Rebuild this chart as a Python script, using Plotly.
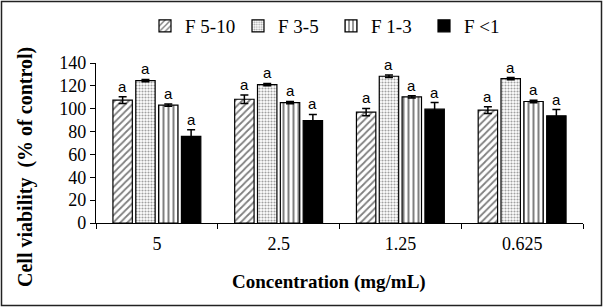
import plotly.graph_objects as go

categories = ["5", "2.5", "1.25", "0.625"]
series_names = ["F 5-10", "F 3-5", "F 1-3", "F <1"]
f5_10 = [107.5, 108.3, 97.0, 98.8]
f5_10_err = [3.0, 3.7, 3.2, 3.0]
f3_5 = [124.6, 121.1, 128.4, 126.3]
f3_5_err = [1.0, 1.0, 1.0, 1.0]
f1_3 = [103.1, 105.4, 110.4, 106.3]
f1_3_err = [1.0, 1.0, 1.0, 1.0]
f_lt1 = [75.8, 89.5, 99.6, 93.8]
f_lt1_err = [5.8, 5.5, 5.8, 5.5]
letters = ["a", "a", "a", "a"]
x_title = "Concentration (mg/mL)"
y_title = "Cell viability  (% of control)"

values = [f5_10, f3_5, f1_3, f_lt1]
errors = [f5_10_err, f3_5_err, f1_3_err, f_lt1_err]
patterns = [
    dict(shape="/", fgcolor="black", bgcolor="white", size=5, solidity=0.35),
    dict(shape=".", fgcolor="#444444", bgcolor="white", size=3, solidity=0.4),
    dict(shape="|", fgcolor="black", bgcolor="white", size=5, solidity=0.4),
    dict(shape="", fgcolor="black", bgcolor="black"),
]
colors = ["white", "white", "white", "black"]

SERIF = "Liberation Serif, Times New Roman, DejaVu Serif, serif"

fig = go.Figure()
for name, v, e, p, c in zip(series_names, values, errors, patterns, colors):
    fig.add_trace(go.Bar(
        x=categories, y=v, name=name,
        marker=dict(color=c, pattern=p, line=dict(color="black", width=1.2)),
        error_y=dict(type="data", array=e, visible=True, color="black",
                     thickness=1.5, width=4),
    ))

bargap = 0.25
ngroups = len(series_names)
slot = (1 - bargap) / ngroups
for i, (v, e) in enumerate(zip(values, errors)):
    for j, cat in enumerate(categories):
        fig.add_annotation(
            x=j - (1 - bargap) / 2 + slot * (i + 0.5), xref="x",
            y=v[j] + e[j], yref="y",
            text=letters[j], showarrow=False, yanchor="bottom", yshift=0,
            font=dict(family="Liberation Sans", size=15, color="black"),
        )

ml, mr, mt, mb = 96, 20, 63, 84
W, H = 603, 307
pw, ph = W - ml - mr, H - mt - mb

# axis titles (placed like the original, slightly off-centre)
fig.add_annotation(text="<b>" + x_title + "</b>", xref="paper", yref="paper",
                   x=(329 - ml) / pw, y=(H - 282 - mb) / ph, showarrow=False,
                   xanchor="center", yanchor="middle",
                   font=dict(family=SERIF, size=19, color="black"))
fig.add_annotation(text="<b>" + y_title + "</b>", xref="paper", yref="paper",
                   x=(25 - ml) / pw, y=(H - 167 - mb) / ph, showarrow=False,
                   textangle=-90, xanchor="center", yanchor="middle",
                   font=dict(family=SERIF, size=20, color="black"))

fig.add_shape(type="rect", xref="paper", yref="paper", layer="above",
              x0=-(ml - 1.5) / pw, x1=1 + (mr - 1.5) / pw,
              y0=-(mb - 1.5) / ph, y1=1 + (mt - 1.5) / ph,
              line=dict(color="#222222", width=1.5))

fig.update_layout(
    width=W, height=H,
    margin=dict(l=ml, r=mr, t=mt, b=mb, autoexpand=False),
    paper_bgcolor="white", plot_bgcolor="white",
    barmode="group", bargap=bargap, bargroupgap=0.15,
    font=dict(family=SERIF, size=14, color="black"),
    showlegend=True,
    legend=dict(orientation="h", x=(331 - ml) / pw, xanchor="center", y=1 + 37 / ph, yanchor="middle",
                entrywidth=48, entrywidthmode="pixels", bgcolor="rgba(0,0,0,0)",
                font=dict(family=SERIF, size=19, color="black"),
                itemwidth=30, traceorder="normal"),
    xaxis=dict(
        type="category", showline=True, linecolor="black", linewidth=1.2,
        ticks="outside", tickson="boundaries", ticklen=5, tickcolor="black",
        showgrid=False, ticklabelstandoff=4,
        tickfont=dict(family=SERIF, size=18),
    ),
    yaxis=dict(
        range=[0, 140], dtick=20, showline=True, linecolor="black", linewidth=1.2,
        ticks="outside", ticklen=5, tickcolor="black", showgrid=False, zeroline=False,
        tickfont=dict(family=SERIF, size=18),
    ),
)

fig.write_html("out.html", config={"displayModeBar": False},
               post_script="document.body.style.margin='0';document.body.style.padding='0';")
